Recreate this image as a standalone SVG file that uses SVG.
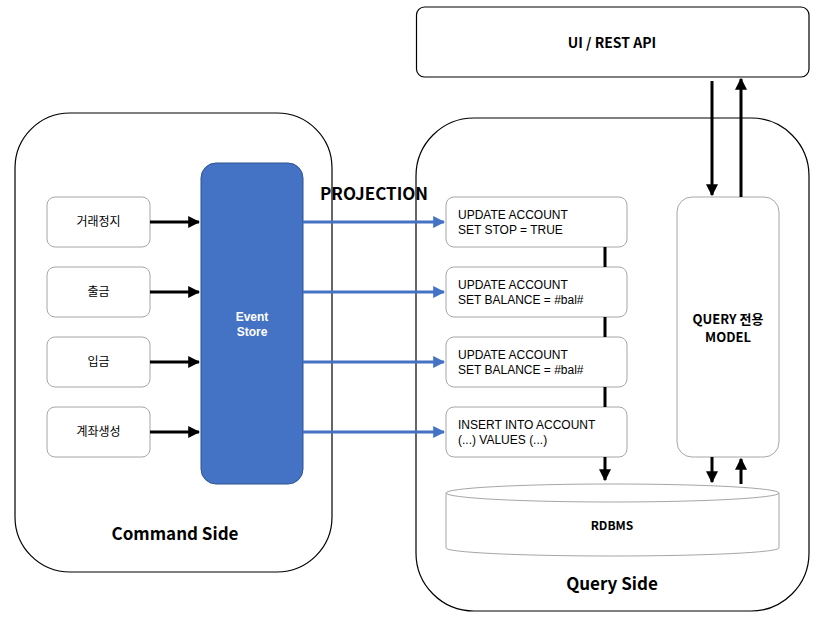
<svg xmlns="http://www.w3.org/2000/svg" width="829" height="622" viewBox="0 0 829 622">
<defs>
<style>
text{font-family:"Noto Sans CJK KR","Noto Sans",sans-serif;fill:#000}
.lat{font-family:"Liberation Sans","Noto Sans CJK KR",sans-serif}
.cont{fill:#fff;stroke:#000;stroke-width:1.2}
.box{fill:#fff;stroke:#a6a6a6;stroke-width:1}
.lbl{font-size:12px;text-anchor:middle}
.sql{font-size:12px}
.bold{font-weight:bold}
.blk{stroke:#000;stroke-width:3;fill:none}
.blu{stroke:#4472C4;stroke-width:3;fill:none}
</style>
<marker id="ab" viewBox="0 0 10 10" refX="9" refY="5" markerWidth="4" markerHeight="4" orient="auto" markerUnits="strokeWidth"><path d="M0,0L10,5L0,10z" fill="#000"/></marker>
<marker id="au" viewBox="0 0 10 10" refX="9" refY="5" markerWidth="4" markerHeight="4" orient="auto" markerUnits="strokeWidth"><path d="M0,0L10,5L0,10z" fill="#4472C4"/></marker>
</defs>
<g id="command-side"><rect class="cont" x="15" y="113" width="317" height="459" rx="55"/><text class="bold" x="175" y="540" font-size="17" text-anchor="middle">Command Side</text></g>
<g id="query-side"><rect class="cont" x="416" y="118" width="393" height="493" rx="58"/><text class="bold" x="612" y="590" font-size="17" text-anchor="middle">Query Side</text></g>
<g id="ui"><rect class="cont" x="416.5" y="7" width="392.5" height="70" rx="8"/><text class="bold lbl" x="612" y="48" style="font-size:14px">UI / REST API</text></g>
<g id="event-store"><rect x="201" y="163" width="102" height="321" rx="15" fill="#4472C4" stroke="#2f528f" stroke-width="1"/><text class="bold lbl lat" x="252" y="321" style="fill:#fff">Event</text><text class="bold lbl lat" x="252" y="336" style="fill:#fff">Store</text></g>
<g id="cmd1"><rect class="box" x="47" y="197" width="103" height="50" rx="8"/><text class="lbl" x="98.5" y="226">거래정지</text></g>
<g id="cmd2"><rect class="box" x="47" y="267" width="103" height="50" rx="8"/><text class="lbl" x="98.5" y="296">출금</text></g>
<g id="cmd3"><rect class="box" x="47" y="337" width="103" height="50" rx="8"/><text class="lbl" x="98.5" y="366">입금</text></g>
<g id="cmd4"><rect class="box" x="47" y="407" width="103" height="50" rx="8"/><text class="lbl" x="98.5" y="436">계좌생성</text></g>
<g id="sql1"><rect class="box" x="446" y="197" width="181" height="50" rx="8"/><text class="sql lat" x="458" y="219">UPDATE ACCOUNT</text><text class="sql lat" x="458" y="234">SET STOP = TRUE</text></g>
<g id="sql2"><rect class="box" x="446" y="267" width="181" height="50" rx="8"/><text class="sql lat" x="458" y="289">UPDATE ACCOUNT</text><text class="sql lat" x="458" y="304">SET BALANCE = #bal#</text></g>
<g id="sql3"><rect class="box" x="446" y="337" width="181" height="50" rx="8"/><text class="sql lat" x="458" y="359">UPDATE ACCOUNT</text><text class="sql lat" x="458" y="374">SET BALANCE = #bal#</text></g>
<g id="sql4"><rect class="box" x="446" y="407" width="181" height="50" rx="8"/><text class="sql lat" x="458" y="429">INSERT INTO ACCOUNT</text><text class="sql lat" x="458" y="444">(...) VALUES (...)</text></g>
<g id="query-model"><rect class="box" x="677" y="197" width="102" height="260" rx="15"/><text class="bold lbl" x="728" y="324" style="font-size:13px">QUERY 전용</text><text class="bold lbl" x="728" y="342" style="font-size:13px">MODEL</text></g>
<g id="rdbms"><path d="M446,493 L446,548 A166.5,8 0 0 0 779,548 L779,493" fill="#fff" stroke="#a6a6a6" stroke-width="1"/><ellipse cx="612.5" cy="493" rx="166.5" ry="9" fill="#fff" stroke="#a6a6a6" stroke-width="1"/><text class="bold lbl" x="612" y="530">RDBMS</text></g>
<text id="projection" class="bold" x="320" y="200" font-size="17">PROJECTION</text>
<g id="connectors">
<line class="blk" x1="150" y1="222" x2="199" y2="222" marker-end="url(#ab)"/>
<line class="blk" x1="150" y1="292" x2="199" y2="292" marker-end="url(#ab)"/>
<line class="blk" x1="150" y1="362" x2="199" y2="362" marker-end="url(#ab)"/>
<line class="blk" x1="150" y1="432" x2="199" y2="432" marker-end="url(#ab)"/>
<line class="blu" x1="303" y1="222" x2="444" y2="222" marker-end="url(#au)"/>
<line class="blu" x1="303" y1="292" x2="444" y2="292" marker-end="url(#au)"/>
<line class="blu" x1="303" y1="362" x2="444" y2="362" marker-end="url(#au)"/>
<line class="blu" x1="303" y1="432" x2="444" y2="432" marker-end="url(#au)"/>
<line class="blk" x1="605" y1="247" x2="605" y2="267"/>
<line class="blk" x1="605" y1="317" x2="605" y2="337"/>
<line class="blk" x1="605" y1="387" x2="605" y2="407"/>
<line class="blk" x1="605" y1="457" x2="605" y2="480" marker-end="url(#ab)"/>
<line class="blk" x1="712" y1="81" x2="712" y2="195" marker-end="url(#ab)"/>
<line class="blk" x1="741" y1="197" x2="741" y2="79" marker-end="url(#ab)"/>
<line class="blk" x1="712" y1="457" x2="712" y2="482" marker-end="url(#ab)"/>
<line class="blk" x1="741" y1="484" x2="741" y2="459" marker-end="url(#ab)"/>
</g>
</svg>
